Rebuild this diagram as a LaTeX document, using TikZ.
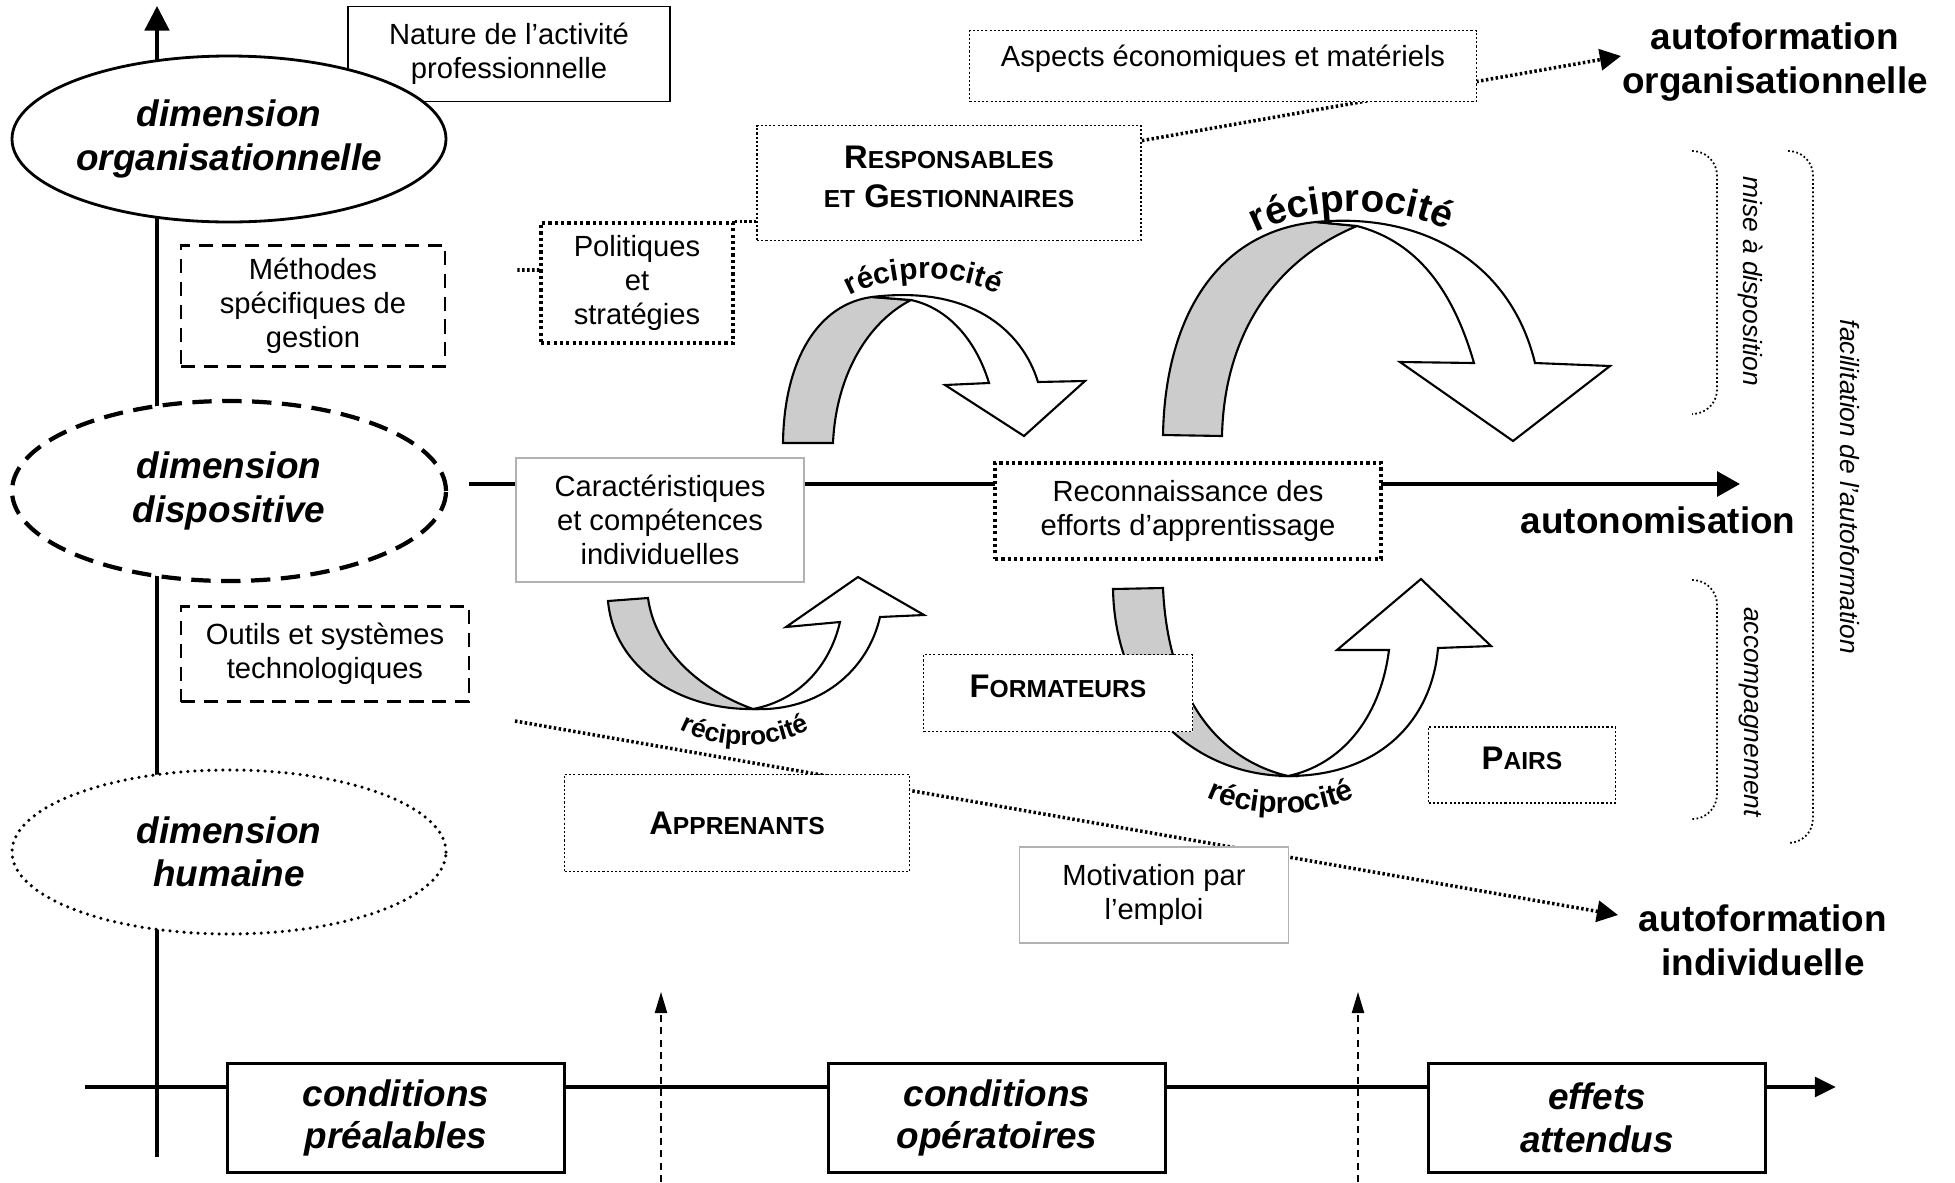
\documentclass[tikz,border=0pt]{standalone}
\usepackage{fontspec}
\setmainfont{Liberation Sans}
\usetikzlibrary{arrows.meta,shapes.geometric,decorations.text,backgrounds,positioning}

\newcommand{\petit}[1]{{\fontsize{7}{8}\selectfont #1}}

\begin{document}
\begin{tikzpicture}[x=0.1mm,y=-0.1mm,
    txt/.style={font=\fontsize{8.3}{9.6}\selectfont,align=center,inner sep=0pt},
    big/.style={font=\fontsize{10.5}{12.6}\selectfont\bfseries,align=center,inner sep=0pt},
    dimell/.style={ellipse,draw,fill=white,inner sep=0pt,minimum width=43.4mm,
        font=\fontsize{10.5}{12.4}\selectfont\bfseries\itshape,align=center},
    condbox/.style={draw,line width=0.8pt,fill=white,minimum width=33.7mm,minimum height=10.9mm,
        font=\fontsize{10.5}{12.1}\selectfont\bfseries\itshape,align=center},
    plainbox/.style={draw,line width=0.5pt,fill=white,txt},
    dashbox/.style={draw,line width=0.7pt,dash pattern=on 4pt off 2.5pt,fill=white,txt},
    dotbox/.style={draw,line width=0.5pt,dash pattern=on 0.6pt off 0.6pt,fill=white,txt},
    thickdot/.style={draw,line width=0.9pt,dash pattern=on 0.9pt off 0.9pt,fill=white,txt},
    greybox/.style={draw=black!30,line width=0.4pt,fill=white,txt},
    actor/.style={dotbox,font=\fontsize{9.3}{11.2}\selectfont\bfseries},
    brace/.style={line width=0.5pt,dash pattern=on 0.5pt off 0.7pt,rounded corners=7pt},
    bracetxt/.style={font=\fontsize{7.5}{9}\selectfont\itshape,rotate=-90,inner sep=0pt},
    dotline/.style={line width=1pt,dash pattern=on 0.7pt off 0.7pt},
    back/.style={draw,line width=0.6pt,fill=black!20},
    front/.style={draw,line width=0.6pt,fill=white},
    recip/.style={decorate,decoration={text along path,text align=center,
        text={|\bfseries\fontsize{#1}{#1}\selectfont|réciprocité}}}
  ]
  \useasboundingbox (0,0) rectangle (1955,1182);

  % axes
  \coordinate (ytop) at (157,6);
  \coordinate (ybot) at (157,1157);
  \coordinate (xleft) at (85,1087);
  \coordinate (xright) at (1836,1087);
  \coordinate (autostart) at (469,484);
  \coordinate (autotip) at (1740,484);
  \coordinate (orgtip) at (1621,56);
  \coordinate (indstart) at (515,721);
  \coordinate (indtip) at (1618,915);
  \coordinate (polstub) at (517,270);

  % conditions
  \node[condbox] (pre) at (396,1118) {conditions\\préalables};
  \node[condbox] (ope) at (997,1118) {conditions\\opératoires};
  \node[condbox] (eff) at (1597,1118) {effets\\attendus};

  % dimensions
  \node[plainbox,minimum width=32.2mm,minimum height=9.5mm] (nat) at (509,54) {Nature de l’activité\\professionnelle};
  \node[dimell,line width=0.8pt,minimum height=16.6mm] (org) at (229,139) {dimension\\organisationnelle};
  \node[dimell,line width=1.2pt,dash pattern=on 5.5pt off 3pt,minimum height=18mm] (dis) at (229,491) {dimension\\dispositive};
  \node[dimell,line width=1pt,dash pattern=on 0pt off 2pt,line cap=round,minimum height=16.4mm] (hum) at (229,852) {dimension\\humaine};

  % reciprocity arrows
  \path[back] (783,443) .. controls (784,360) and (818,304) .. (872,297) -- (911,300) .. controls (868,322) and (836,375) .. (833,443) -- cycle;
  \path[front] (872,297) .. controls (970,285) and (1022,330) .. (1038,382) -- (1085,381) -- (1024,436) -- (945,385) -- (989,383) .. controls (976,340) and (948,308) .. (911,300) -- cycle;
  \path[back] (1163,435) .. controls (1165,320) and (1215,232) .. (1316,222) -- (1357,226) .. controls (1270,262) and (1224,340) .. (1222,436) -- cycle;
  \path[front] (1316,222) .. controls (1420,212) and (1510,260) .. (1535,363) -- (1610,366) -- (1513,441) -- (1400,362) -- (1474,363) .. controls (1450,280) and (1410,240) .. (1357,226) -- cycle;
  \path[back] (608,601) .. controls (614,668) and (680,710) .. (753,709) .. controls (700,690) and (655,650) .. (648,598) -- cycle;
  \path[front] (753,709) .. controls (820,712) and (868,670) .. (880,617) -- (924,615) -- (858,577) -- (786,627) -- (840,622) .. controls (830,665) and (800,700) .. (753,709) -- cycle;
  \path[back] (1113,589) .. controls (1115,700) and (1190,775) .. (1288,776) .. controls (1220,760) and (1168,700) .. (1163,588) -- cycle;
  \path[front] (1288,776) .. controls (1380,776) and (1432,720) .. (1438,648) -- (1491,646) -- (1421,579) -- (1337,650) -- (1389,650) .. controls (1380,720) and (1340,765) .. (1288,776) -- cycle;
  \path[recip=8.5] (835,306) .. controls (875,272) and (970,268) .. (1012,304);
  \path[recip=11] (1240,242) .. controls (1292,204) and (1408,199) .. (1463,240);
  \path[recip=7.5] (670,724) .. controls (715,752) and (775,752) .. (820,724);
  \path[recip=8.5] (1196,792) .. controls (1245,820) and (1315,820) .. (1366,792);

  % boxes
  \node[dashbox,minimum width=26.4mm,minimum height=12.1mm] (meth) at (313,306) {Méthodes\\spécifiques de\\gestion};
  \node[dashbox,minimum width=28.8mm,minimum height=9.5mm] (outil) at (325,654) {Outils et systèmes\\technologiques};
  \node[thickdot,minimum width=19.2mm,minimum height=12mm] (pol) at (637,283) {Politiques\\et\\stratégies};
  \node[actor,minimum width=38.4mm,minimum height=11.5mm,text depth=3.4pt] (resp) at (949,183) {R\petit{ESPONSABLES}\\\petit{ET} G\petit{ESTIONNAIRES}};
  \node[dotbox,minimum width=50.7mm,minimum height=7.1mm,text depth=5.7pt] (asp) at (1223,66) {Aspects économiques et matériels};
  \node[greybox,minimum width=28.8mm,minimum height=12.4mm] (carac) at (660,520) {Caractéristiques\\et compétences\\individuelles};
  \node[thickdot,minimum width=38.6mm,minimum height=9.6mm] (recon) at (1188,511) {Reconnaissance des\\efforts d’apprentissage};
  \node[actor,minimum width=26.9mm,minimum height=7.7mm,text depth=4pt] (form) at (1058,693) {F\petit{ORMATEURS}};
  \node[actor,minimum width=18.7mm,minimum height=7.6mm,text depth=4pt] (pairs) at (1522,765) {P\petit{AIRS}};
  \node[actor,minimum width=34.5mm,minimum height=9.7mm] (appr) at (737,823) {A\petit{PPRENANTS}};
  \node[greybox,minimum width=26.9mm,minimum height=9.6mm] (motiv) at (1154,895) {Motivation par\\l’emploi};

  % effects
  \node[big] (autorg) at (1775,62) {autoformation\\organisationnelle};
  \node[big] (autind) at (1763,940) {autoformation\\individuelle};
  \node[big] (auto) at (1658,520) {autonomisation};

  % facilitation
  \draw[brace] (1692,151) -- (1717,151) -- (1717,414) -- (1692,414);
  \draw[brace] (1692,580) -- (1717,580) -- (1717,819) -- (1692,819);
  \draw[brace] (1788,151) -- (1813,151) -- (1813,843) -- (1788,843);
  \node[bracetxt] (mise) at (1750,281) {mise à disposition};
  \node[bracetxt] (acc) at (1750,712) {accompagnement};
  \node[bracetxt] (fac) at (1850,487) {facilitation de l’autoformation};

  % lines behind the nodes
  \begin{pgfonlayer}{background}
    \draw[line width=0.9pt,-{Triangle[width=7pt,length=7pt]}] (ybot) -- (ytop);
    \draw[line width=1.2pt,-{Triangle[width=5.5pt,length=6pt]}] (xleft) -- (xright);
    \foreach \x/\n in {661/p,1358/q} {
      \coordinate (\n low) at (\x,1182);
      \coordinate (\n up) at (\x,992);
      \draw[line width=0.4pt,dash pattern=on 2pt off 1.5pt,-{Triangle[width=3.5pt,length=6pt]}] (\n low) -- (\n up);
    }
    \draw[line width=1.1pt,-{Triangle[width=7pt,length=6.5pt]}] (autostart) -- (autotip);
    \draw[dotline,-{Triangle[width=6pt,length=6pt]}] ([yshift=-1.6mm]resp.north east) -- (orgtip);
    \draw[dotline,-{Triangle[width=6pt,length=6pt]}] (indstart) -- (indtip);
    \draw[dotline] (pol.north east) -- (pol.north east -| resp.west);
    \draw[dotline] ([yshift=1.3mm]pol.west) -- (polstub);
  \end{pgfonlayer}
\end{tikzpicture}
\end{document}
